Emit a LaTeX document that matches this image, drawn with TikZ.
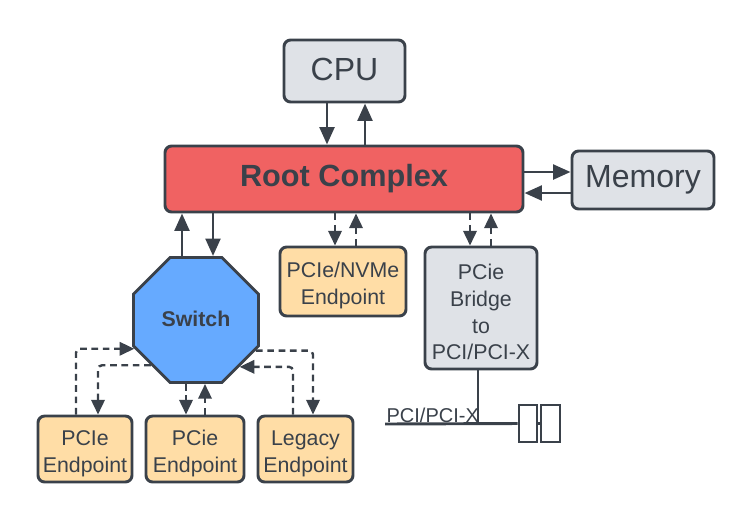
\documentclass[tikz,border=0pt]{standalone}
\usepackage{fontspec}
\setmainfont{Liberation Sans}
\usetikzlibrary{arrows.meta,shapes.geometric}
\definecolor{ink}{HTML}{3A414A}
\definecolor{rcred}{HTML}{F06262}
\definecolor{swblue}{HTML}{66AAFF}
\definecolor{epor}{HTML}{FFDDA6}
\definecolor{gbox}{HTML}{DFE2E7}
\newcommand\dnstrut{\rule{0pt}{18pt}}
\begin{document}
\begin{tikzpicture}[x=0.75pt,y=-0.75pt,
  box/.style={draw=ink, line width=2.2pt, rounded corners=5pt, text=ink, align=center,
    inner sep=0pt, font=\fontsize{16}{20}\selectfont},
  arr/.style={draw=ink, line width=2.2pt, -{Triangle[length=13pt,width=11pt]}},
  darr/.style={draw=ink, line width=1.8pt, dash pattern=on 5pt off 3.5pt,
    -{Triangle[length=11pt,width=10pt]}, rounded corners=3pt},
  plain/.style={draw=ink, line width=2.2pt},
]
\useasboundingbox (0,0) rectangle (755,522);

% nodes
\node[box, fill=gbox, minimum width=90.75pt, minimum height=46.5pt, font=\fontsize{24}{28}\selectfont] (cpu) at (344.5,71) {\raisebox{2pt}{CPU}};
\node[box, fill=rcred, minimum width=268.5pt, minimum height=49.5pt, font=\fontsize{23}{28}\selectfont\bfseries] (rc) at (344,179) {Root Complex};
\node[box, fill=gbox, minimum width=106.5pt, minimum height=43.5pt, font=\fontsize{24}{28}\selectfont] (mem) at (643,180) {Memory};
\node[box, fill=epor, minimum width=94.5pt, minimum height=51.75pt] (nvme) at (343,281.5) {\dnstrut PCIe/NVMe\\Endpoint};
\node[box, fill=gbox, minimum width=84pt, minimum height=91.5pt] (br) at (481,308) {\dnstrut PCie\\Bridge\\to\\PCI/PCI-X};
\node[draw=ink, line width=2.2pt, fill=swblue, regular polygon, regular polygon sides=8,
  minimum size=101.5pt, inner sep=0pt, text=ink, font=\fontsize{16}{20}\selectfont\bfseries] (sw) at (196,320) {\raisebox{2pt}{Switch}};
\node[box, fill=epor, minimum width=70.5pt, minimum height=49.5pt] (ep1) at (85,449) {\dnstrut PCIe\\Endpoint};
\node[box, fill=epor, minimum width=73.5pt, minimum height=49.5pt] (ep2) at (195,449) {\dnstrut PCie\\Endpoint};
\node[box, fill=epor, minimum width=71.25pt, minimum height=49.5pt] (leg) at (305.5,449) {\dnstrut Legacy\\Endpoint};
\node[draw=ink, line width=2.2pt, fill=white, minimum width=13.5pt, minimum height=27.75pt, inner sep=0pt] (c1) at (528,423.5) {};
\node[draw=ink, line width=2.2pt, fill=white, minimum width=14.25pt, minimum height=27.75pt, inner sep=0pt] (c2) at (550.5,423.5) {};
\coordinate (busL) at (385,424);
\coordinate (tap) at (478,424);
\node[anchor=south west, inner sep=1pt, text=ink, font=\fontsize{15}{18}\selectfont] (buslbl) at (busL) {PCI/PCI-X};

% CPU <-> RC
\draw[arr] (327,0 |- cpu.south) -- (327,0 |- rc.north);
\draw[arr] (365,0 |- rc.north) -- (365,0 |- cpu.south);
% RC <-> Memory
\draw[arr] (rc.east |- 0,172) -- (mem.west |- 0,172);
\draw[arr] (mem.west |- 0,193) -- (rc.east |- 0,193);
% RC <-> Switch
\draw[arr] (182,0 |- sw.north) -- (182,0 |- rc.south);
\draw[arr] (213,0 |- rc.south) -- (213,0 |- sw.north);
% RC <-> NVMe
\draw[darr] (335,0 |- rc.south) -- (335,0 |- nvme.north);
\draw[darr] (356,0 |- nvme.north) -- (356,0 |- rc.south);
% RC <-> Bridge
\draw[darr] (470,0 |- rc.south) -- (470,0 |- br.north);
\draw[darr] (491,0 |- br.north) -- (491,0 |- rc.south);
% Bridge to bus
\draw[plain] (478,0 |- br.south) -- (tap);
\draw[plain] (busL) -- (c1.west);
\draw[plain] (c1.east) -- (c2.west);

% Switch <-> endpoints
\draw[darr] (76,0 |- ep1.north) |- (sw.205);
\draw[darr] (sw.225) -| (98,0 |- ep1.north);
\draw[darr] (186,0 |- sw.south) -- (186,0 |- ep2.north);
\draw[darr] (205,0 |- ep2.north) -- (205,0 |- sw.south);
\draw[darr] (sw.-27) -| (313,0 |- leg.north);
\draw[darr] (293,0 |- leg.north) |- (sw.-47);
\end{tikzpicture}
\end{document}
